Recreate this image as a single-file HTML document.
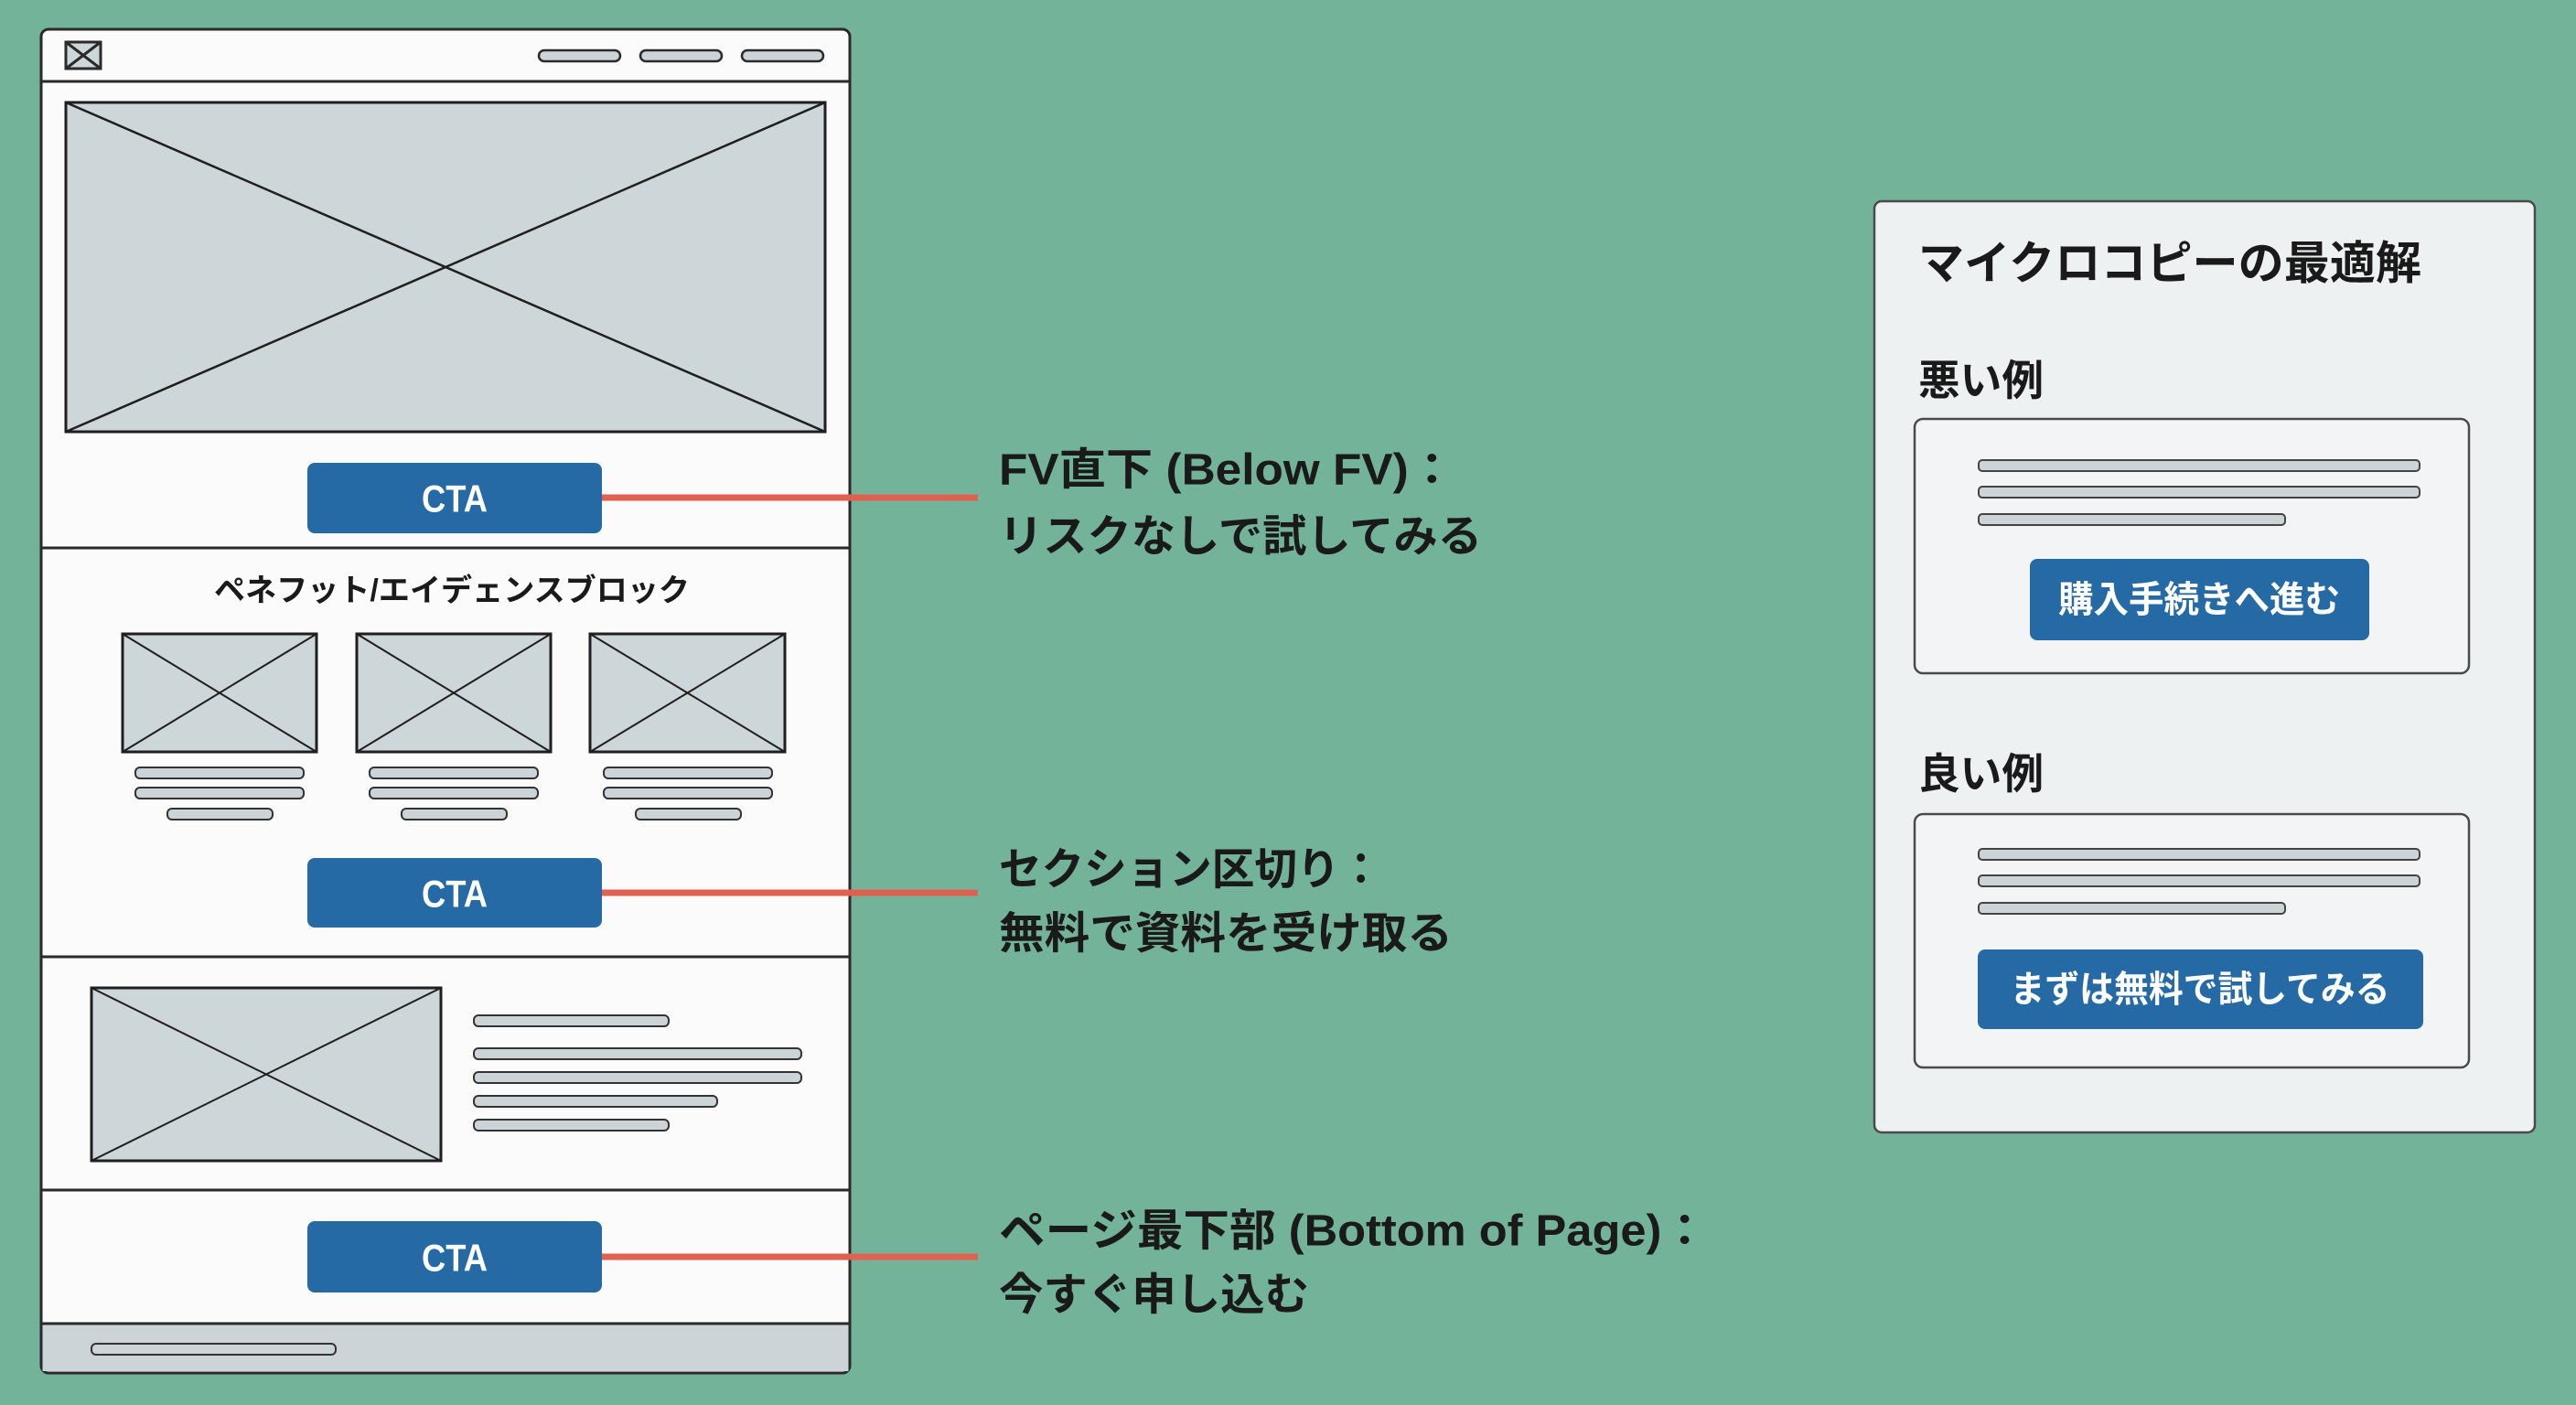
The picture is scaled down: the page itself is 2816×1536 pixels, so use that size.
<!DOCTYPE html>
<html><head><meta charset="utf-8"><style>
html,body{margin:0;padding:0;background:#72b39a;}
svg{display:block;}
text{font-family:"Liberation Sans","Noto Sans CJK JP",sans-serif;font-weight:bold;}
</style></head><body>
<svg width="2816" height="1536" viewBox="0 0 2816 1536" xmlns="http://www.w3.org/2000/svg">
<rect width="2816" height="1536" fill="#72b39a"/>
<rect x="45" y="32" width="884" height="1469" rx="8" fill="#fbfbfb" stroke="#2a2a2a" stroke-width="3"/>
<rect x="46.5" y="1447" width="881" height="52" fill="#cdd4d8"/>
<g stroke="#2a2a2a" stroke-width="3">
<line x1="45" y1="89" x2="929" y2="89"/>
<line x1="45" y1="599" x2="929" y2="599"/>
<line x1="45" y1="1046" x2="929" y2="1046"/>
<line x1="45" y1="1301" x2="929" y2="1301"/>
<line x1="45" y1="1447" x2="929" y2="1447"/>
</g>
<g stroke="#2a2a2a" stroke-width="3" fill="#cdd6d8">
<rect x="72" y="46" width="38" height="29"/>
<line x1="72" y1="46" x2="110" y2="75"/><line x1="110" y1="46" x2="72" y2="75"/>
</g>
<g fill="#cdd4d8" stroke="#2a2a2a" stroke-width="2.5">
<rect x="589" y="55" width="89" height="12" rx="6"/>
<rect x="700" y="55" width="89" height="12" rx="6"/>
<rect x="811" y="55" width="89" height="12" rx="6"/>
</g>
<g stroke="#1f1f1f" stroke-width="3" fill="#cdd6d8">
<rect x="72" y="112" width="830" height="360"/>
<line x1="72" y1="112" x2="902" y2="472" stroke-width="2.5"/><line x1="902" y1="112" x2="72" y2="472" stroke-width="2.5"/>
<rect x="134" y="693" width="212" height="129"/>
<line x1="134" y1="693" x2="346" y2="822" stroke-width="2"/><line x1="346" y1="693" x2="134" y2="822" stroke-width="2"/>
<rect x="390" y="693" width="212" height="129"/>
<line x1="390" y1="693" x2="602" y2="822" stroke-width="2"/><line x1="602" y1="693" x2="390" y2="822" stroke-width="2"/>
<rect x="645" y="693" width="213" height="129"/>
<line x1="645" y1="693" x2="858" y2="822" stroke-width="2"/><line x1="858" y1="693" x2="645" y2="822" stroke-width="2"/>
<rect x="100" y="1080" width="382" height="189"/>
<line x1="100" y1="1080" x2="482" y2="1269" stroke-width="2"/><line x1="482" y1="1080" x2="100" y2="1269" stroke-width="2"/>
</g>
<g fill="#cdd4d8" stroke="#333" stroke-width="2">
<rect x="148" y="839" width="184" height="12" rx="5"/><rect x="148" y="861" width="184" height="12" rx="5"/><rect x="183" y="884" width="115" height="12" rx="5"/>
<rect x="404" y="839" width="184" height="12" rx="5"/><rect x="404" y="861" width="184" height="12" rx="5"/><rect x="439" y="884" width="115" height="12" rx="5"/>
<rect x="660" y="839" width="184" height="12" rx="5"/><rect x="660" y="861" width="184" height="12" rx="5"/><rect x="695" y="884" width="115" height="12" rx="5"/>
<rect x="518" y="1110" width="213" height="12" rx="5"/>
<rect x="518" y="1146" width="358" height="12" rx="5"/>
<rect x="518" y="1172" width="358" height="12" rx="5"/>
<rect x="518" y="1198" width="266" height="12" rx="5"/>
<rect x="518" y="1224" width="213" height="12" rx="5"/>
<rect x="100" y="1469" width="267" height="12" rx="5"/>
</g>
<text x="494" y="646" font-size="34" text-anchor="middle" dominant-baseline="central" fill="#1a1a1a" textLength="520" lengthAdjust="spacingAndGlyphs">ペネフット/エイデェンスブロック</text>
<g stroke="#e0614f" stroke-width="7">
<line x1="658" y1="544" x2="1069" y2="544"/>
<line x1="658" y1="976" x2="1069" y2="976"/>
<line x1="658" y1="1374" x2="1069" y2="1374"/>
</g>
<g fill="#2569a5">
<rect x="336" y="506" width="322" height="77" rx="8"/>
<rect x="336" y="938" width="322" height="76" rx="8"/>
<rect x="336" y="1335" width="322" height="78" rx="8"/>
</g>
<g fill="#fff" font-size="42" text-anchor="middle" dominant-baseline="central">
<text x="497" y="545" textLength="72" lengthAdjust="spacingAndGlyphs">CTA</text>
<text x="497" y="977" textLength="72" lengthAdjust="spacingAndGlyphs">CTA</text>
<text x="497" y="1375" textLength="72" lengthAdjust="spacingAndGlyphs">CTA</text>
</g>
<g fill="#1a1a1a" font-size="48" dominant-baseline="central">
<text x="1092" y="514" textLength="499" lengthAdjust="spacingAndGlyphs">FV直下 (Below FV)：</text>
<text x="1092" y="587" textLength="528" lengthAdjust="spacingAndGlyphs">リスクなしで試してみる</text>
<text x="1092" y="951" textLength="419" lengthAdjust="spacingAndGlyphs">セクション区切り：</text>
<text x="1092" y="1021" textLength="496" lengthAdjust="spacingAndGlyphs">無料で資料を受け取る</text>
<text x="1092" y="1346" textLength="775" lengthAdjust="spacingAndGlyphs">ページ最下部 (Bottom of Page)：</text>
<text x="1092" y="1416" textLength="339" lengthAdjust="spacingAndGlyphs">今すぐ申し込む</text>
</g>
<rect x="2049" y="220" width="722" height="1018" rx="8" fill="#eef1f2" stroke="#4a4a4a" stroke-width="2.5"/>
<text x="2097" y="288" font-size="50" fill="#1a1a1a" dominant-baseline="central" textLength="550" lengthAdjust="spacingAndGlyphs">マイクロコピーの最適解</text>
<text x="2097" y="416" font-size="46" fill="#1a1a1a" dominant-baseline="central" textLength="137" lengthAdjust="spacingAndGlyphs">悪い例</text>
<text x="2097" y="846" font-size="46" fill="#1a1a1a" dominant-baseline="central" textLength="137" lengthAdjust="spacingAndGlyphs">良い例</text>
<g fill="#f2f4f5" stroke="#4a4a4a" stroke-width="2.5">
<rect x="2093" y="458" width="606" height="278" rx="9"/>
<rect x="2093" y="890" width="606" height="277" rx="9"/>
</g>
<g fill="#cdd4d8" stroke="#444" stroke-width="2">
<rect x="2163" y="503" width="482" height="12" rx="4"/><rect x="2163" y="532" width="482" height="12" rx="4"/><rect x="2163" y="562" width="335" height="12" rx="4"/>
<rect x="2163" y="928" width="482" height="12" rx="4"/><rect x="2163" y="957" width="482" height="12" rx="4"/><rect x="2163" y="987" width="335" height="12" rx="4"/>
</g>
<rect x="2219" y="611" width="371" height="89" rx="8" fill="#2569a5"/>
<rect x="2162" y="1038" width="487" height="87" rx="8" fill="#2569a5"/>
<text x="2404" y="656" font-size="40" fill="#fff" text-anchor="middle" dominant-baseline="central" textLength="308" lengthAdjust="spacingAndGlyphs">購入手続きへ進む</text>
<text x="2405" y="1082" font-size="40" fill="#fff" text-anchor="middle" dominant-baseline="central" textLength="415" lengthAdjust="spacingAndGlyphs">まずは無料で試してみる</text>
</svg>
</body></html>
